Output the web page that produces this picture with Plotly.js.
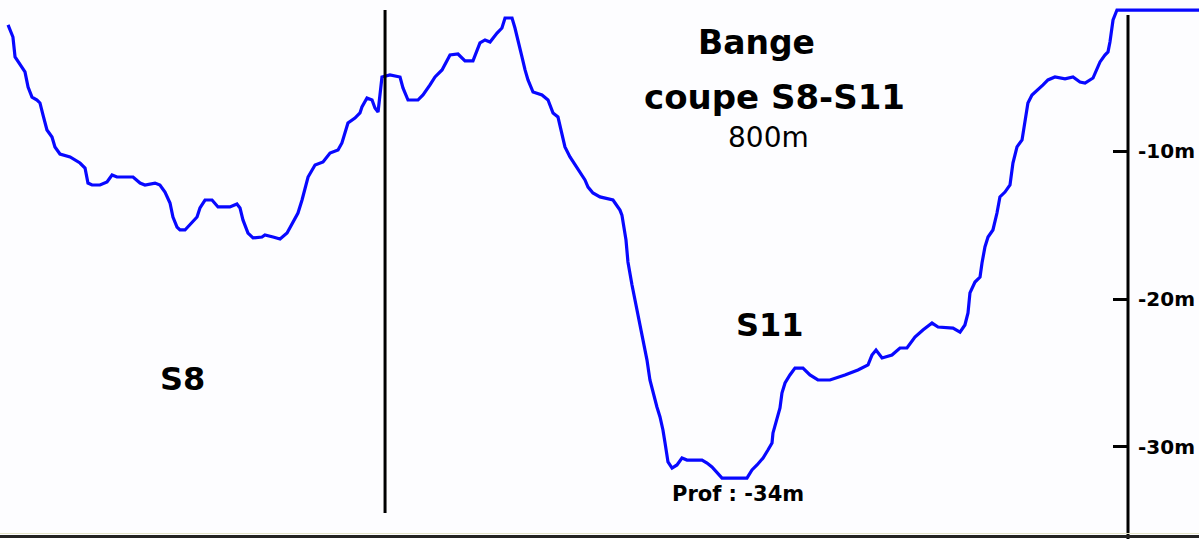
<!DOCTYPE html>
<html>
<head>
<meta charset="utf-8">
<script src="https://cdn.plot.ly/plotly-3.0.1.min.js"></script>
<style>html,body{margin:0;padding:0;background:#fdfdff;}#chart{width:1199px;height:539px;}</style>
</head>
<body>
<div id="chart"></div>
<script>
// Distance along the section (m) and depth (m)
const distance = [-1.4,2.1,3.6,8.6,10.7,12.9,15.7,19.3,21.4,23.6,26.4,30.0,32.1,35.7,42.9,50.0,53.6,55.7,58.6,64.3,
69.3,72.9,76.4,87.9,92.9,96.4,103.6,107.1,110.7,114.3,116.4,119.3,121.4,125.0,130.0,133.6,135.7,139.3,144.3,148.6,
157.1,162.1,164.3,166.4,170.0,173.6,180.0,182.1,187.9,192.9,197.9,202.1,205.7,208.6,210.7,212.9,217.9,223.6,228.6,234.3,
237.1,239.3,241.4,246.4,250.0,251.4,255.0,258.6,260.7,262.9,264.3,265.7,271.4,278.6,280.7,284.3,291.4,295.0,300.0,303.6,
308.6,314.3,320.0,325.0,330.7,335.7,339.3,342.9,347.9,351.4,353.6,358.6,360.7,362.9,365.7,367.9,370.0,373.6,380.0,384.3,
387.9,391.4,394.3,396.4,400.0,403.6,407.1,410.7,412.9,416.4,421.4,430.7,435.7,437.1,440.0,441.4,444.3,447.1,450.0,452.9,
455.0,457.1,459.3,462.1,464.3,466.4,467.9,470.0,472.9,476.4,480.0,483.6,494.3,497.9,501.4,505.0,508.6,526.4,530.0,533.6,
537.9,541.4,544.3,545.0,547.9,550.0,551.4,553.6,557.1,560.7,566.4,571.4,577.1,585.7,596.4,605.7,612.9,615.7,618.6,622.9,
630.0,635.7,640.7,646.4,652.1,658.6,662.9,673.6,678.6,682.1,684.3,685.7,689.3,692.9,694.3,696.4,698.6,702.1,705.0,707.1,
710.7,714.3,716.4,719.3,722.9,725.0,727.1,730.0,734.3,737.9,741.4,746.4,753.6,759.3,764.3,767.9,773.6,776.4,778.6,782.1,
784.3,785.7,787.1,787.9,790.7,850.0];
const depth = [-1.42,-2.24,-3.59,-4.27,-4.61,-5.63,-6.31,-6.51,-6.71,-7.53,-8.54,-9.02,-9.69,-10.17,-10.37,-10.78,-11.12,-12.14,-12.27,-12.27,
-12.07,-11.59,-11.73,-11.73,-12.14,-12.27,-12.14,-12.27,-12.75,-13.49,-14.44,-15.12,-15.32,-15.32,-14.85,-14.44,-13.83,-13.29,-13.29,-13.76,
-13.76,-13.56,-13.83,-14.64,-15.53,-15.86,-15.80,-15.66,-15.80,-15.93,-15.53,-14.85,-14.17,-13.29,-12.41,-11.73,-10.92,-10.71,-10.10,-9.90,
-9.42,-8.75,-8.07,-7.73,-7.39,-6.98,-6.37,-6.51,-7.05,-7.32,-6.03,-4.95,-4.81,-4.95,-5.69,-6.51,-6.51,-6.17,-5.49,-4.95,
-4.47,-3.46,-3.39,-3.86,-3.86,-2.64,-2.44,-2.58,-1.97,-1.63,-0.95,-0.95,-1.63,-2.58,-3.59,-4.47,-5.15,-5.97,-6.17,-6.51,
-7.39,-7.66,-8.75,-9.69,-10.37,-10.92,-11.46,-11.93,-12.41,-12.81,-13.08,-13.29,-13.97,-14.31,-16.00,-17.49,-19.05,-20.41,-21.76,-23.12,
-24.14,-25.49,-26.37,-27.32,-28.00,-28.88,-29.76,-31.05,-31.46,-31.25,-30.78,-30.92,-30.92,-31.12,-31.39,-31.73,-32.14,-32.14,-31.59,-31.25,
-30.78,-30.24,-29.76,-29.08,-28.20,-27.39,-26.37,-25.69,-25.15,-24.68,-24.68,-25.15,-25.49,-25.49,-25.15,-24.81,-24.47,-23.80,-23.46,-24.00,
-23.80,-23.32,-23.32,-22.58,-22.10,-21.63,-21.90,-21.97,-22.24,-21.76,-20.95,-19.59,-18.85,-18.51,-17.56,-16.47,-15.80,-15.32,-14.17,-13.08,
-12.75,-12.27,-10.78,-9.69,-9.22,-8.07,-6.71,-6.17,-5.83,-5.49,-5.15,-4.95,-5.08,-4.95,-5.29,-5.36,-5.02,-4.47,-3.93,-3.46,
-3.25,-2.58,-1.76,-1.08,-0.41,-0.41];
const tickValues = [-10, -20, -30];
const tickLabels = ['-10m', '-20m', '-30m'];
const sectionBoundary = 267.9;   // S8 / S11 limit (m)
const boundaryTop = -0.41, boundaryBottom = -34.5;
const axisTop = -0.75;
const titleLines = ['Bange', 'coupe S8-S11', '800m'];
const zoneLabels = ['S8', 'S11'];
const depthLabel = 'Prof : -34m';

const font = 'DejaVu Sans, Arial, sans-serif';

const trace = {
  x: distance, y: depth, type: 'scatter', mode: 'lines',
  line: {color: '#0808ff', width: 3.2},
  hoverinfo: 'skip', showlegend: false
};

const layout = {
  width: 1199, height: 539,
  margin: {l: 0, r: 0, t: 0, b: 0, pad: 0},
  paper_bgcolor: '#fdfdff', plot_bgcolor: '#fdfdff',
  showlegend: false,
  xaxis: {range: [-7.14, 849.3], visible: false, fixedrange: true},
  yaxis: {
    range: [-36.27, 0.27], side: 'right', anchor: 'free', position: 1128/1199,
    showline: false, showgrid: false, zeroline: false,
    ticks: 'inside', ticklen: 15, tickwidth: 3, tickcolor: '#000',
    tickvals: tickValues, ticktext: tickLabels, ticklabelstandoff: 9,
    tickfont: {family: font, size: 20, color: '#000', weight: 700},
    fixedrange: true
  },
  shapes: [
    {type: 'line', xref: 'x', yref: 'y', x0: sectionBoundary, x1: sectionBoundary, y0: boundaryTop, y1: boundaryBottom,
     line: {color: '#000', width: 3}},
    {type: 'line', xref: 'paper', yref: 'y', x0: 1128/1199, x1: 1128/1199, y0: axisTop, y1: -36.27,
     line: {color: '#000', width: 3}},
    {type: 'line', xref: 'paper', yref: 'paper', x0: 0, x1: 1, y0: 1 - 533.5/539, y1: 1 - 533.5/539,
     line: {color: '#e4e4c8', width: 1}},
    {type: 'line', xref: 'paper', yref: 'paper', x0: 0, x1: 1, y0: 1 - 536.5/539, y1: 1 - 536.5/539,
     line: {color: '#222', width: 3}}
  ],
  annotations: [
    {text: titleLines[0], xref: 'paper', yref: 'paper', x: 756/1199, y: 1 - 42/539, xanchor: 'center', yanchor: 'middle', showarrow: false,
     font: {family: font, size: 33, color: '#000', weight: 700}},
    {text: titleLines[1], xref: 'paper', yref: 'paper', x: 774/1199, y: 1 - 97/539, xanchor: 'center', yanchor: 'middle', showarrow: false,
     font: {family: font, size: 34, color: '#000', weight: 700}},
    {text: titleLines[2], xref: 'paper', yref: 'paper', x: 768/1199, y: 1 - 137/539, xanchor: 'center', yanchor: 'middle', showarrow: false,
     font: {family: font, size: 28, color: '#000'}},
    {text: zoneLabels[0], xref: 'paper', yref: 'paper', x: 182/1199, y: 1 - 379/539, xanchor: 'center', yanchor: 'middle', showarrow: false,
     font: {family: font, size: 32, color: '#000', weight: 700}},
    {text: zoneLabels[1], xref: 'paper', yref: 'paper', x: 770/1199, y: 1 - 325/539, xanchor: 'center', yanchor: 'middle', showarrow: false,
     font: {family: font, size: 32, color: '#000', weight: 700}},
    {text: depthLabel, xref: 'paper', yref: 'paper', x: 738/1199, y: 1 - 494/539, xanchor: 'center', yanchor: 'middle', showarrow: false,
     font: {family: font, size: 21, color: '#000', weight: 700}}
  ]
};

Plotly.newPlot('chart', [trace], layout, {staticPlot: true, displayModeBar: false});
</script>
</body>
</html>
